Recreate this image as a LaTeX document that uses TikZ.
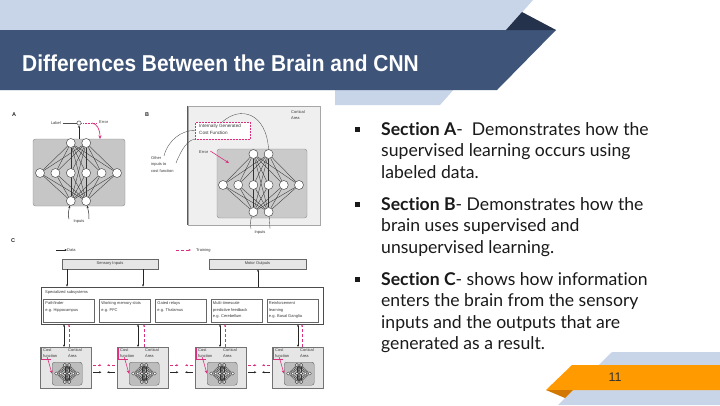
\documentclass[tikz,border=0pt]{standalone}
\usepackage{fontspec}
\setmainfont{Lato}[Ligatures=NoCommon]
\newfontfamily\titlefont[FakeStretch=0.91]{Liberation Sans}
\newfontfamily\figfont{Liberation Sans}
\usetikzlibrary{arrows.meta}
\pgfdeclarelayer{bg}
\pgfdeclarelayer{edges}
\pgfsetlayers{bg,edges,main}
\definecolor{slblue}{HTML}{C8D5E8}
\definecolor{sbar}{HTML}{3F5479}
\definecolor{snavy}{HTML}{25324B}
\definecolor{sorange}{HTML}{FF9A00}
\definecolor{sdorange}{HTML}{D27700}
\definecolor{mag}{HTML}{DB2F7E}
\definecolor{txt}{HTML}{1A1A1A}
\definecolor{gA}{HTML}{C6C6C6}
\definecolor{gBo}{HTML}{EFEFEF}
\definecolor{gBi}{HTML}{CACACA}
\definecolor{gC}{HTML}{E6E6E6}
\definecolor{gCi}{HTML}{BDBDBD}
\tikzset{
  neuron/.style={circle,fill=white,draw=black!75,line width=0.45pt,inner sep=0pt},
  netedge/.style={draw=black!80},
  tinytxt/.style={font=\figfont\fontsize{4}{6.8}\selectfont,inner sep=0pt,text=black!78},
  paneltxt/.style={font=\figfont\bfseries\fontsize{5.5}{6}\selectfont,inner sep=0pt,text=black!85},
  darr/.style={line width=0.5pt,draw=black!85,-{Stealth[length=2.4pt,width=2pt]}},
  dbarr/.style={line width=0.5pt,draw=black!85,{Stealth[length=2.4pt,width=2pt]}-{Stealth[length=2.4pt,width=2pt]}},
  marr/.style={line width=0.45pt,draw=mag,densely dashed,-{Stealth[length=2.4pt,width=2pt]}},
  mbig/.style={line width=0.7pt,draw=mag,-{Stealth[length=3.5pt,width=3pt]}},
  netbox/.style={draw=black!45,rounded corners=2.5pt,inner sep=0pt,line width=0.4pt},
  plainbox/.style={draw=black!60,line width=0.45pt,inner sep=0pt},
  bodytxt/.style={font=\fontsize{17.6}{21.5}\selectfont,text=txt,inner sep=0pt,anchor=base west},
  bulletsq/.style={fill=txt,minimum size=5pt,inner sep=0pt}
}
% #1 prefix, #2 cx, #3 cy, #4 dx, #5 dy top, #6 dy bottom, #7 node size, #8 edge width
\newcommand\drawnet[8]{%
  \foreach \k in {1,...,6}{\node[neuron,minimum size=#7] (#1-m\k) at ({#2+(\k-3.5)*#4},{#3}) {};}%
  \foreach \k in {1,2}{%
    \node[neuron,minimum size=#7] (#1-t\k) at ({#2+(\k-1.5)*#4},{#3-#5}) {};%
    \node[neuron,minimum size=#7] (#1-b\k) at ({#2+(\k-1.5)*#4},{#3+#6}) {};}%
  \begin{pgfonlayer}{edges}%
  \foreach \k in {1,...,6}{\foreach \j in {1,2}{%
    \draw[netedge,line width=#8] (#1-t\j) -- (#1-m\k);
    \draw[netedge,line width=#8] (#1-m\k) -- (#1-b\j);}}%
  \foreach \k in {1,2}{\foreach \j in {1,2}{\draw[netedge,line width=#8] (#1-t\k) -- (#1-b\j);}}%
  \end{pgfonlayer}}
\begin{document}
\begin{tikzpicture}[x=1pt,y=-1pt]
\useasboundingbox (0,0) rectangle (720,405);
\begin{pgfonlayer}{bg}
  \fill[white] (0,0) rectangle (720,405);
  % header
  \fill[slblue] (0,0) -- (533,0) -- (440,105) -- (335,105) -- (335,90) -- (0,90) -- cycle;
  \fill[sbar] (0,30) -- (556,30) -- (497,90) -- (0,90) -- cycle;
  \fill[snavy] (522,12) -- (556,30) -- (506,30) -- cycle;
  % footer
  \fill[slblue] (612,352) -- (720,352) -- (720,405) -- (558,405) -- cycle;
  \fill[sorange] (572,365) -- (720,365) -- (720,390) -- (546,390) -- cycle;
  \fill[sdorange] (546,390) -- (573,390) -- (565,398) -- cycle;
\end{pgfonlayer}
\node[anchor=base west,text=white,inner sep=0pt,font=\titlefont\bfseries\fontsize{23}{23}\selectfont] (title) at (22,71) {Differences Between the Brain and CNN};
\node[font=\figfont\fontsize{12.5}{13}\selectfont,text=black!80,inner sep=0pt] (pnum) at (615,377) {11};

% ---------------- right text
\node[bulletsq] (b1) at (357.5,129.5) {};
\node[bodytxt] (sa1) at (381,135) {\textbf{Section A}-\ \ Demonstrates how the};
\node[bodytxt] (sa2) at (381,156.5) {supervised learning occurs using};
\node[bodytxt] (sa3) at (381,178) {labeled data.};
\node[bulletsq] (b2) at (357.5,204.5) {};
\node[bodytxt] (sb1) at (381,210) {\textbf{Section B}- Demonstrates how the};
\node[bodytxt] (sb2) at (381,231.5) {brain uses supervised and};
\node[bodytxt] (sb3) at (381,253) {unsupervised learning.};
\node[bulletsq] (b3) at (357.5,279.5) {};
\node[bodytxt] (sc1) at (381,285) {\textbf{Section C}- shows how information};
\node[bodytxt] (sc2) at (381,306.5) {enters the brain from the sensory};
\node[bodytxt] (sc3) at (381,328) {inputs and the outputs that are};
\node[bodytxt] (sc4) at (381,349.5) {generated as a result.};

% ---------------- Panel A
\node[paneltxt] (pA) at (14,115) {A};
\begin{pgfonlayer}{bg}
  \node[netbox,fill=gA,minimum width=92pt,minimum height=67pt] (Abox) at (79,172.5) {};
\end{pgfonlayer}
\drawnet{A}{78.5}{173}{15.4}{30}{28}{9pt}{0.35pt}
\node[neuron,minimum size=4.2pt] (A-out) at (79,123) {};
\draw[darr] (Abox.north) -- (A-out.south);
\node[tinytxt,anchor=east] (A-label) at (61,123) {Label};
\draw[line width=0.35pt,black!70] (A-label.east) ++(2pt,0) -- (A-out.west);
\node[tinytxt,anchor=west] (A-err) at (99,122.5) {Error};
\coordinate (A-errin) at (100,139);
\draw[mag,densely dotted,line width=0.6pt] (A-out.east) -- (97,123);
\draw[mbig] (92,123) .. controls (97,124) and (100,129) .. (A-errin);
\node[tinytxt] (A-in) at (79,222) {Inputs};
\coordinate (A-in1) at (69,219);
\coordinate (A-in2) at (89,219);
\draw[darr] (A-in1) .. controls (68,214) .. (A-b1);
\draw[darr] (A-in2) .. controls (89,214) .. (A-b2);

% ---------------- Panel B
\node[paneltxt] (pB) at (147,115) {B};
\begin{pgfonlayer}{bg}
  \node[plainbox,fill=gBo,draw=black!35,minimum width=132pt,minimum height=119pt] (Bout) at (254,165.5) {};
  \draw[line width=1.3pt,black!65] (Bout.north west) -- (Bout.south west);
  \node[netbox,fill=gBi,minimum width=90pt,minimum height=69pt] (Bin) at (262,183.5) {};
\end{pgfonlayer}
\node[tinytxt,align=left,anchor=north west] (B-ca) at (291,110) {Cortical\\Area};
\node[draw=mag,densely dotted,line width=0.5pt,fill=white,minimum width=55pt,minimum height=17pt,inner sep=0pt] (B-cost) at (222.5,130.5) {};
\node[tinytxt,font=\figfont\fontsize{4.6}{7}\selectfont,align=left,anchor=north west] (B-costtxt) at (199,124) {Internally Generated\\Cost Function};
\drawnet{B}{261}{185}{15.2}{31}{27}{9pt}{0.35pt}
\node[tinytxt,anchor=west] (B-err) at (199,152) {Error};
\draw[mbig,line width=0.6pt] (B-err.east) ++(2pt,1pt) -- (229,163);
\draw[line width=0.35pt,black!70] (B-t2.north) .. controls (266,112) and (240,106) .. (B-cost.north);
\node[tinytxt,align=left,anchor=north west] (B-other) at (151,156) {Other\\inputs to\\cost function};
\draw[line width=0.35pt,black!70] (164,156) .. controls (168,140) and (182,130) .. (B-cost.west);
\draw[line width=0.35pt,black!70] (176,163) .. controls (182,148) and (188,140) .. (B-cost.south west);
\node[tinytxt] (B-in) at (260,233) {Inputs};
\coordinate (B-in1) at (251,229);
\coordinate (B-in2) at (270,229);
\draw[line width=0.35pt,black!70] (B-in1) .. controls (250,222) .. (B-b1);
\draw[line width=0.35pt,black!70] (B-in2) .. controls (270,222) .. (B-b2);

% ---------------- Panel C
\node[paneltxt] (pC) at (13,241) {C};
\coordinate (leg1) at (56,250);
\node[tinytxt,anchor=west] (legD) at (67,250) {Data};
\draw[darr] (leg1) -- (legD.west);
\coordinate (leg2) at (176,250);
\node[tinytxt,anchor=west] (legT) at (196,250) {Training};
\draw[marr] (leg2) -- ([xshift=-5pt]legT.west);
\node[plainbox,fill=gC,minimum width=96pt,minimum height=10pt,tinytxt] (C-sens) at (110,264) {Sensory Inputs};
\node[plainbox,fill=gC,minimum width=97pt,minimum height=10pt,tinytxt] (C-mot) at (257.5,264) {Motor Outputs};
\node[plainbox,draw=black!70,line width=0.6pt,minimum width=282pt,minimum height=37pt] (C-spec) at (182,305.5) {};
\node[tinytxt,anchor=west] (C-spectxt) at (45,292.5) {Specialized subsystems};
\draw[darr] (C-sens.south -| 67,0) -- (C-spec.north -| 67,0);
\draw[darr] (C-sens.south -| 143,0) -- (C-spec.north -| 143,0);
\draw[darr] (C-spec.north -| 258,0) -- (C-mot.south -| 258,0);
\foreach \n/\cx/\t in {1/69/{Pathfinder\\e.g. Hippocampus},2/125/{Working memory slots\\e.g. PFC},3/181/{Gated relays\\e.g. Thalamus},4/236.5/{Multi-timescale\\predictive feedback\\e.g. Cerebellum},5/292.5/{Reinforcement\\learning\\e.g. Basal Ganglia}}{
  \node[plainbox,minimum width=51pt,minimum height=23pt,fill=white] (C-sub\n) at (\cx,310.5) {};
  \node[tinytxt,align=left,anchor=north west] (C-subt\n) at ([xshift=2pt,yshift=-2.5pt]C-sub\n.north west) {\t};
}
% cortical areas
\foreach \i/\xo/\bx/\mx in {1/40/64/69,2/117/138/144,3/195/220/225,4/272/298/302}{
  \begin{pgfonlayer}{bg}
    \node[plainbox,fill=gC,draw=black!55,minimum width=51pt,minimum height=41pt,anchor=north west] (C-ca\i) at (\xo,347) {};
    \node[netbox,fill=gCi,draw=black!60,minimum width=30pt,minimum height=23pt,anchor=north west] (C-in\i) at (\xo+12,362) {};
  \end{pgfonlayer}
  \node[tinytxt,align=left,anchor=north west] (C-cost\i) at (\xo+3,348) {Cost\\function};
  \node[tinytxt,align=left,anchor=north west] (C-cort\i) at (\xo+28,348) {Cortical\\Area};
  \draw[mag,line width=0.35pt] (\xo+1.5,347.5) -- (\xo+1.5,359.5) -- (\xo+11,359.5);
  \draw[mbig,line width=0.6pt] (C-cost\i.south) ++(-3pt,1pt) -- (C-in\i.west);
  \drawnet{C\i}{\xo+27}{373.5}{4.3}{8.5}{8.5}{3.2pt}{0.25pt}
  \draw[dbarr] (C-spec.south -| \bx,0) -- (C-ca\i.north -| \bx,0);
  \draw[marr] (C-ca\i.north -| \mx,0) -- (C-spec.south -| \mx,0);
}
\foreach \i/\j in {1/2,2/3,3/4}{
  \draw[darr] ([xshift=2pt,yshift=-4.5pt]C-ca\i.east) -- ++(8,0);
  \draw[darr] ([xshift=-2pt,yshift=-4.5pt]C-ca\j.west) -- ++(-8,0);
  \draw[marr] ([xshift=2pt,yshift=2.5pt]C-ca\i.east) -- ++(8,0);
  \draw[marr] ([xshift=-2pt,yshift=2.5pt]C-ca\j.west) -- ++(-8,0);
}
\end{tikzpicture}
\end{document}
